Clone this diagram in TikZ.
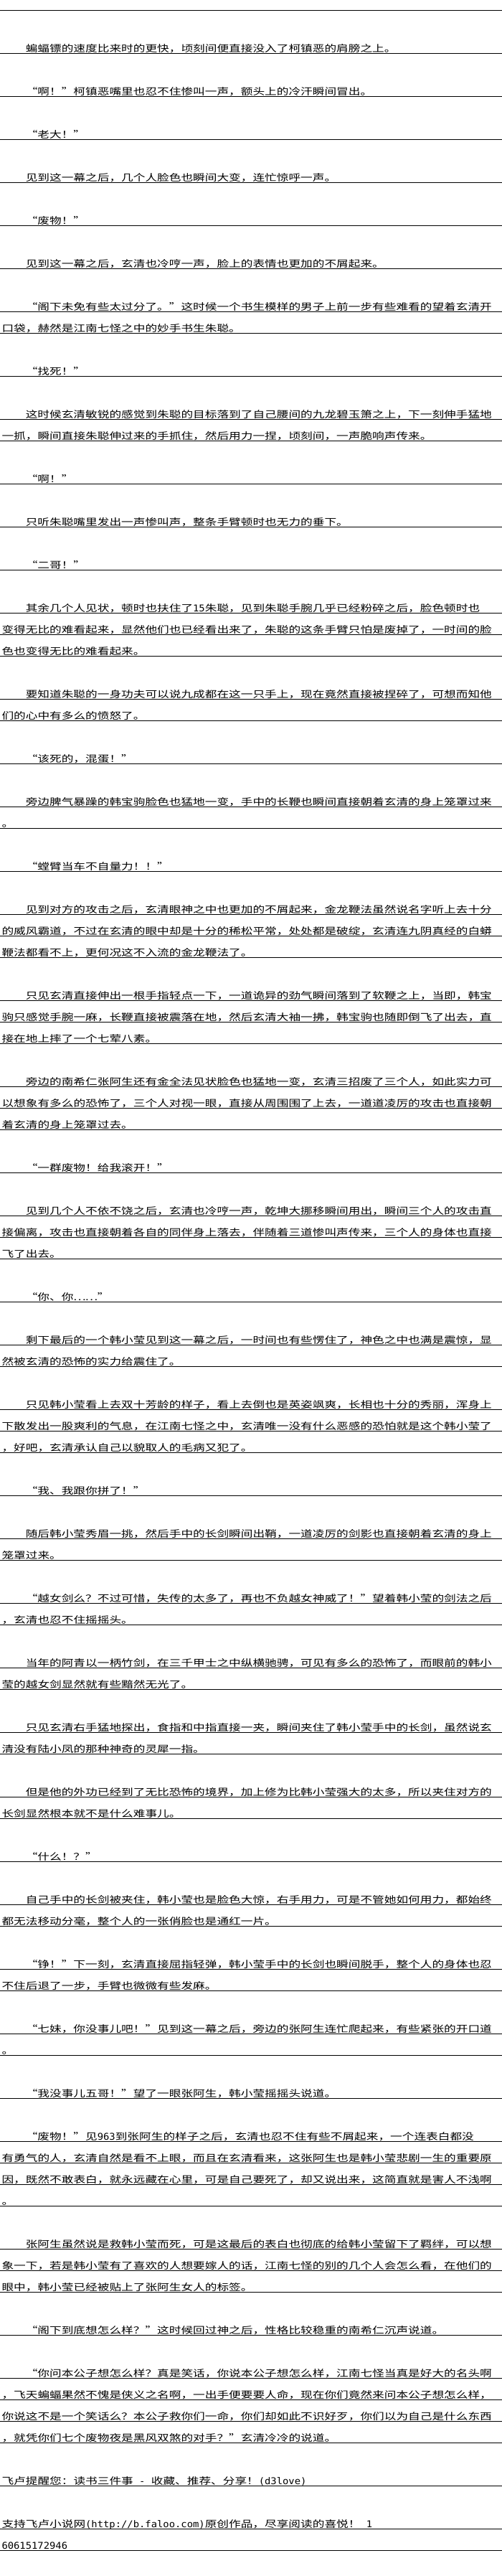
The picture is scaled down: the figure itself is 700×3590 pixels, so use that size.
\documentclass[tikz,border=0pt]{standalone}
\usepackage{fontspec}
\newfontfamily\cjkf{Noto Sans CJK SC}[FakeStretch=1.2821]
\newfontfamily\ascf{DejaVu Sans Mono}[FakeStretch=1.064]
\newlength\mycw \setlength\mycw{16.667pt}
\newlength\myhw \setlength\myhw{8.333pt}
\def\gend{GEND}
\def\hsp{HSP}
\def\gq#1{\ifx#1\gend\else\ifx#1\hsp\hspace*{\myhw}\else\ifnum`#1<128 \makebox[\myhw]{\ascf #1}\else\ifx#1“\makebox[\mycw][r]{#1}\else\ifx#1”\makebox[\mycw][l]{#1}\else\makebox[\mycw]{#1}\fi\fi\fi\fi\expandafter\gq\fi}
\tikzset{
  txt/.style={anchor=base west, inner sep=0pt, outer sep=0pt, text=black, font=\cjkf\fontsize{13pt}{13pt}\selectfont},
  rl/.style={line width=1pt, draw=black}
}
\newcommand\Lind[2]{\node[txt] (L#1) at (35.83,{-14.5-30*#1+1.6}) {\gq #2\gend};\draw[rl] (0,{-14.5-30*#1}) -- (700,{-14.5-30*#1});}
\newcommand\Lwr[2]{\node[txt] (L#1) at (2.5,{-14.5-30*#1+1.6}) {\gq #2\gend};\draw[rl] (0,{-14.5-30*#1}) -- (700,{-14.5-30*#1});}
\begin{document}
\begin{tikzpicture}[x=1pt,y=1pt]
\fill[white] (0,0) rectangle (700,-3590);
\useasboundingbox (0,0) rectangle (700,-3590);
\draw[rl] (0,-14.5) -- (700,-14.5);
\Lind{2}{蝙蝠镖的速度比来时的更快，顷刻间便直接没入了柯镇恶的肩膀之上。}
\Lind{4}{“啊！”柯镇恶嘴里也忍不住惨叫一声，额头上的冷汗瞬间冒出。}
\Lind{6}{“老大！”}
\Lind{8}{见到这一幕之后，几个人脸色也瞬间大变，连忙惊呼一声。}
\Lind{10}{“废物！”}
\Lind{12}{见到这一幕之后，玄清也冷哼一声，脸上的表情也更加的不屑起来。}
\Lind{14}{“阁下未免有些太过分了。”这时候一个书生模样的男子上前一步有些难看的望着玄清开}
\Lwr{15}{口袋，赫然是江南七怪之中的妙手书生朱聪。}
\Lind{17}{“找死！”}
\Lind{19}{这时候玄清敏锐的感觉到朱聪的目标落到了自己腰间的九龙碧玉箫之上，下一刻伸手猛地}
\Lwr{20}{一抓，瞬间直接朱聪伸过来的手抓住，然后用力一捏，顷刻间，一声脆响声传来。}
\Lind{22}{“啊！”}
\Lind{24}{只听朱聪嘴里发出一声惨叫声，整条手臂顿时也无力的垂下。}
\Lind{26}{“二哥！”}
\Lind{28}{其余几个人见状，顿时也扶住了15朱聪，见到朱聪手腕几乎已经粉碎之后，脸色顿时也}
\Lwr{29}{变得无比的难看起来，显然他们也已经看出来了，朱聪的这条手臂只怕是废掉了，一时间的脸}
\Lwr{30}{色也变得无比的难看起来。}
\Lind{32}{要知道朱聪的一身功夫可以说九成都在这一只手上，现在竟然直接被捏碎了，可想而知他}
\Lwr{33}{们的心中有多么的愤怒了。}
\Lind{35}{“该死的，混蛋！”}
\Lind{37}{旁边脾气暴躁的韩宝驹脸色也猛地一变，手中的长鞭也瞬间直接朝着玄清的身上笼罩过来}
\Lwr{38}{。}
\Lind{40}{“螳臂当车不自量力！！”}
\Lind{42}{见到对方的攻击之后，玄清眼神之中也更加的不屑起来，金龙鞭法虽然说名字听上去十分}
\Lwr{43}{的威风霸道，不过在玄清的眼中却是十分的稀松平常，处处都是破绽，玄清连九阴真经的白蟒}
\Lwr{44}{鞭法都看不上，更何况这不入流的金龙鞭法了。}
\Lind{46}{只见玄清直接伸出一根手指轻点一下，一道诡异的劲气瞬间落到了软鞭之上，当即，韩宝}
\Lwr{47}{驹只感觉手腕一麻，长鞭直接被震落在地，然后玄清大袖一拂，韩宝驹也随即倒飞了出去，直}
\Lwr{48}{接在地上摔了一个七荤八素。}
\Lind{50}{旁边的南希仁张阿生还有金全法见状脸色也猛地一变，玄清三招废了三个人，如此实力可}
\Lwr{51}{以想象有多么的恐怖了，三个人对视一眼，直接从周围围了上去，一道道凌厉的攻击也直接朝}
\Lwr{52}{着玄清的身上笼罩过去。}
\Lind{54}{“一群废物！给我滚开！”}
\Lind{56}{见到几个人不依不饶之后，玄清也冷哼一声，乾坤大挪移瞬间用出，瞬间三个人的攻击直}
\Lwr{57}{接偏离，攻击也直接朝着各自的同伴身上落去，伴随着三道惨叫声传来，三个人的身体也直接}
\Lwr{58}{飞了出去。}
\Lind{60}{“你、你……”}
\Lind{62}{剩下最后的一个韩小莹见到这一幕之后，一时间也有些愣住了，神色之中也满是震惊，显}
\Lwr{63}{然被玄清的恐怖的实力给震住了。}
\Lind{65}{只见韩小莹看上去双十芳龄的样子，看上去倒也是英姿飒爽，长相也十分的秀丽，浑身上}
\Lwr{66}{下散发出一股爽利的气息，在江南七怪之中，玄清唯一没有什么恶感的恐怕就是这个韩小莹了}
\Lwr{67}{，好吧，玄清承认自己以貌取人的毛病又犯了。}
\Lind{69}{“我、我跟你拼了！”}
\Lind{71}{随后韩小莹秀眉一挑，然后手中的长剑瞬间出鞘，一道凌厉的剑影也直接朝着玄清的身上}
\Lwr{72}{笼罩过来。}
\Lind{74}{“越女剑么？不过可惜，失传的太多了，再也不负越女神威了！”望着韩小莹的剑法之后}
\Lwr{75}{，玄清也忍不住摇摇头。}
\Lind{77}{当年的阿青以一柄竹剑，在三千甲士之中纵横驰骋，可见有多么的恐怖了，而眼前的韩小}
\Lwr{78}{莹的越女剑显然就有些黯然无光了。}
\Lind{80}{只见玄清右手猛地探出，食指和中指直接一夹，瞬间夹住了韩小莹手中的长剑，虽然说玄}
\Lwr{81}{清没有陆小凤的那种神奇的灵犀一指。}
\Lind{83}{但是他的外功已经到了无比恐怖的境界，加上修为比韩小莹强大的太多，所以夹住对方的}
\Lwr{84}{长剑显然根本就不是什么难事儿。}
\Lind{86}{“什么！？”}
\Lind{88}{自己手中的长剑被夹住，韩小莹也是脸色大惊，右手用力，可是不管她如何用力，都始终}
\Lwr{89}{都无法移动分毫，整个人的一张俏脸也是通红一片。}
\Lind{91}{“铮！”下一刻，玄清直接屈指轻弹，韩小莹手中的长剑也瞬间脱手，整个人的身体也忍}
\Lwr{92}{不住后退了一步，手臂也微微有些发麻。}
\Lind{94}{“七妹，你没事儿吧！”见到这一幕之后，旁边的张阿生连忙爬起来，有些紧张的开口道}
\Lwr{95}{。}
\Lind{97}{“我没事儿五哥！”望了一眼张阿生，韩小莹摇摇头说道。}
\Lind{99}{“废物！”见963到张阿生的样子之后，玄清也忍不住有些不屑起来，一个连表白都没}
\Lwr{100}{有勇气的人，玄清自然是看不上眼，而且在玄清看来，这张阿生也是韩小莹悲剧一生的重要原}
\Lwr{101}{因，既然不敢表白，就永远藏在心里，可是自己要死了，却又说出来，这简直就是害人不浅啊}
\Lwr{102}{。}
\Lind{104}{张阿生虽然说是救韩小莹而死，可是这最后的表白也彻底的给韩小莹留下了羁绊，可以想}
\Lwr{105}{象一下，若是韩小莹有了喜欢的人想要嫁人的话，江南七怪的别的几个人会怎么看，在他们的}
\Lwr{106}{眼中，韩小莹已经被贴上了张阿生女人的标签。}
\Lind{108}{“阁下到底想怎么样？”这时候回过神之后，性格比较稳重的南希仁沉声说道。}
\Lind{110}{“你问本公子想怎么样？真是笑话，你说本公子想怎么样，江南七怪当真是好大的名头啊}
\Lwr{111}{，飞天蝙蝠果然不愧是侠义之名啊，一出手便要要人命，现在你们竟然来问本公子想怎么样，}
\Lwr{112}{你说这不是一个笑话么？本公子救你们一命，你们却如此不识好歹，你们以为自己是什么东西}
\Lwr{113}{，就凭你们七个废物夜是黑风双煞的对手？”玄清冷冷的说道。}
\Lwr{115}{飞卢提醒您：读书三件事\hsp-\hsp 收藏、推荐、分享！(d3love)}
\Lwr{117}{支持飞卢小说网(http://b.faloo.com)原创作品，尽享阅读的喜悦！\hsp1}
\Lwr{118}{60615172946}
\end{tikzpicture}
\end{document}
